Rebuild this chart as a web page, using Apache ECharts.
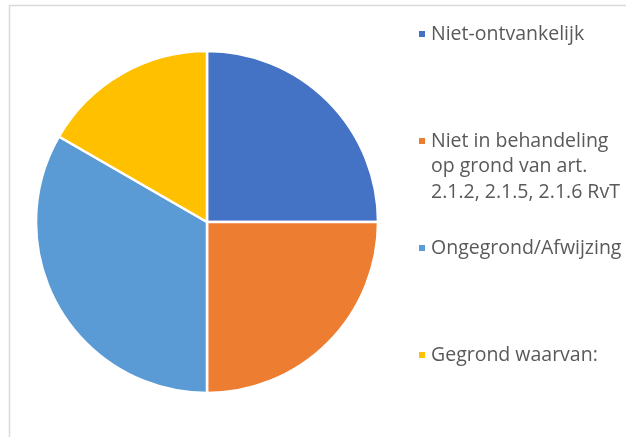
<!DOCTYPE html>
<html>
<head>
<meta charset="utf-8">
<script src="https://cdn.jsdelivr.net/npm/echarts@6/dist/echarts.min.js"></script>
<style>
html,body{margin:0;padding:0;background:#fff}
#c1{width:626px;height:437px}
</style>
</head>
<body>
<div id="c1"></div>
<script>
var names = ['Niet-ontvankelijk', 'Niet in behandeling\nop grond van art.\n2.1.2, 2.1.5, 2.1.6 RvT', 'Ongegrond/Afwijzing', 'Gegrond waarvan:']
var values = [3, 3, 4, 2]
var colors = ['#4472C4', '#ED7D31', '#5B9BD5', '#FFC000']
var legendMids = [34, 141, 248, 355]

// one legend per item so each sits on its own row; multi-line names get
// empty lines in front so the marker lines up with the first line
function makeLegends(){
	var out = []
	for (var i = 0; i < names.length; i++) {
		var lines = names[i].split('\n').length
		out.push({
			data: [names[i]],
			left: 417,
			top: legendMids[i] - 12.75 * (2 * lines - 1),
			padding: 0,
			orient: 'vertical',
			itemWidth: 8,
			itemHeight: 8,
			itemGap: 0,
			icon: 'rect',
			selectedMode: false,
			formatter: function(n){
				var k = n.split('\n').length - 1
				var pre = ''
				for (var j = 0; j < k; j++) pre += ' \n'
				return pre + n
			},
			textStyle: {
				color: '#595959',
				fontFamily: 'Open Sans',
				fontSize: 19.5,
				lineHeight: 25.5
			}
		})
	}
	return out
}

var pieData = []
for (var i = 0; i < names.length; i++) {
	pieData.push({ name: names[i], value: values[i], itemStyle: { color: colors[i] } })
}

var myChart = echarts.init(document.getElementById('c1'))
myChart.setOption({
	backgroundColor: '#fff',
	animation: false,
	graphic: [{
		type: 'rect',
		shape: { x: 9.5, y: 5.5, width: 640, height: 460 },
		style: { fill: 'none', stroke: '#d9d9d9', lineWidth: 1.5 }
	}],
	legend: makeLegends(),
	series: [{
		type: 'pie',
		center: [207, 222],
		radius: [0, 171],
		startAngle: 90,
		clockwise: true,
		label: { show: false },
		labelLine: { show: false },
		itemStyle: { borderColor: '#fff', borderWidth: 2.5 },
		emphasis: { disabled: true },
		data: pieData
	}]
})
</script>
</body>
</html>
